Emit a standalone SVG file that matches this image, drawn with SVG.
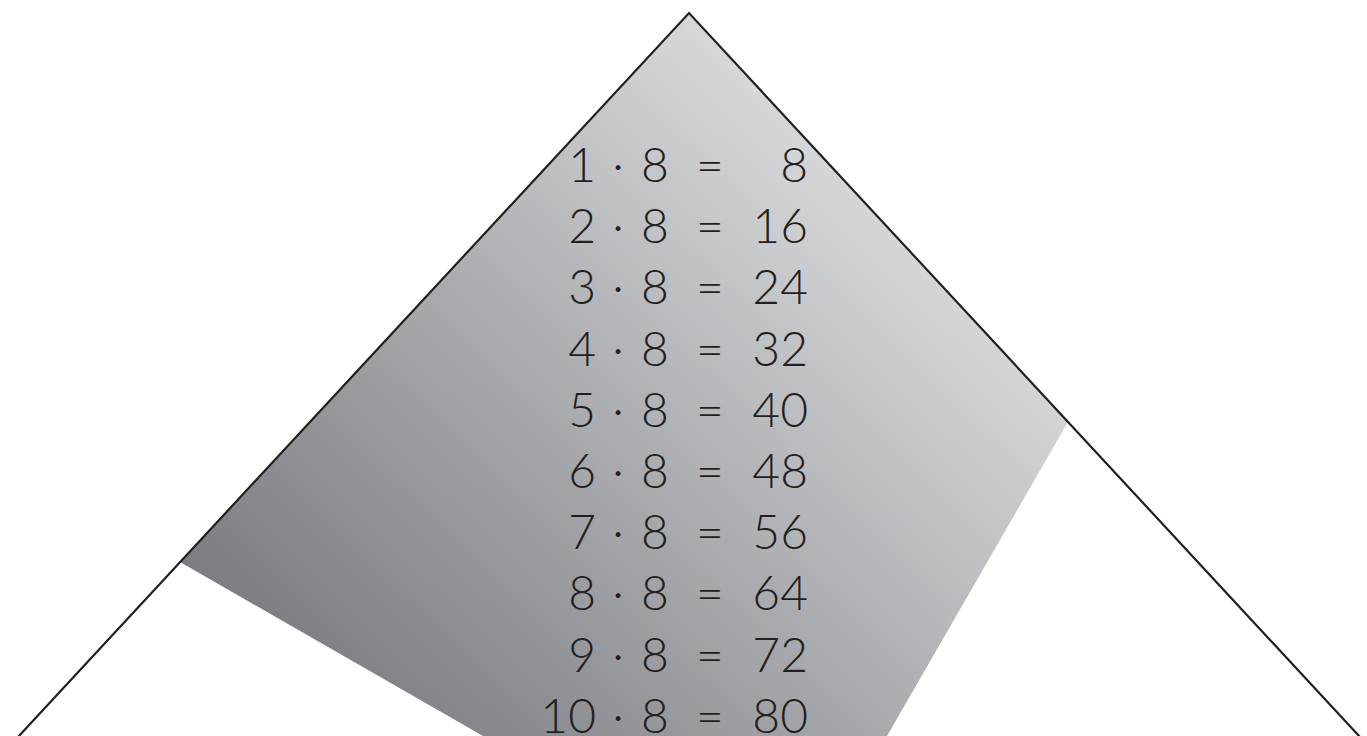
<svg xmlns="http://www.w3.org/2000/svg" width="1367" height="736" viewBox="0 0 1367 736">
<style>
.t{font-family:"Lato","Noto Sans",sans-serif;font-size:48px;font-weight:300;fill:#231f20}
.e{text-anchor:end}
.m{text-anchor:middle}
.edge{fill:none;stroke:#231f20;stroke-width:2.2}
</style>
<defs>
<linearGradient id="g" gradientUnits="userSpaceOnUse" x1="180" y1="562" x2="700" y2="28">
<stop offset="0" stop-color="#7c7d82"/>
<stop offset="1" stop-color="#d6d7d9"/>
</linearGradient>
</defs>
<rect width="1367" height="736" fill="#fff"/>
<polygon points="689,13 180,562 483,736 887,736 1068,422" fill="url(#g)"/>
<polyline class="edge" points="18,737 689,13 1360,737"/>
<g class="t">
<g id="r1"><text class="e" x="596" y="182">1</text><text class="m" x="618" y="182">·</text><text class="m" x="655" y="182">8</text><text class="m" x="710" y="182">=</text><text class="e" x="808" y="182">8</text></g>
<g id="r2"><text class="e" x="596" y="243">2</text><text class="m" x="618" y="243">·</text><text class="m" x="655" y="243">8</text><text class="m" x="710" y="243">=</text><text class="e" x="808" y="243">16</text></g>
<g id="r3"><text class="e" x="596" y="304">3</text><text class="m" x="618" y="304">·</text><text class="m" x="655" y="304">8</text><text class="m" x="710" y="304">=</text><text class="e" x="808" y="304">24</text></g>
<g id="r4"><text class="e" x="596" y="366">4</text><text class="m" x="618" y="366">·</text><text class="m" x="655" y="366">8</text><text class="m" x="710" y="366">=</text><text class="e" x="808" y="366">32</text></g>
<g id="r5"><text class="e" x="596" y="427">5</text><text class="m" x="618" y="427">·</text><text class="m" x="655" y="427">8</text><text class="m" x="710" y="427">=</text><text class="e" x="808" y="427">40</text></g>
<g id="r6"><text class="e" x="596" y="488">6</text><text class="m" x="618" y="488">·</text><text class="m" x="655" y="488">8</text><text class="m" x="710" y="488">=</text><text class="e" x="808" y="488">48</text></g>
<g id="r7"><text class="e" x="596" y="549">7</text><text class="m" x="618" y="549">·</text><text class="m" x="655" y="549">8</text><text class="m" x="710" y="549">=</text><text class="e" x="808" y="549">56</text></g>
<g id="r8"><text class="e" x="596" y="610">8</text><text class="m" x="618" y="610">·</text><text class="m" x="655" y="610">8</text><text class="m" x="710" y="610">=</text><text class="e" x="808" y="610">64</text></g>
<g id="r9"><text class="e" x="596" y="672">9</text><text class="m" x="618" y="672">·</text><text class="m" x="655" y="672">8</text><text class="m" x="710" y="672">=</text><text class="e" x="808" y="672">72</text></g>
<g id="r10"><text class="e" x="596" y="733">10</text><text class="m" x="618" y="733">·</text><text class="m" x="655" y="733">8</text><text class="m" x="710" y="733">=</text><text class="e" x="808" y="733">80</text></g>
</g>
</svg>
